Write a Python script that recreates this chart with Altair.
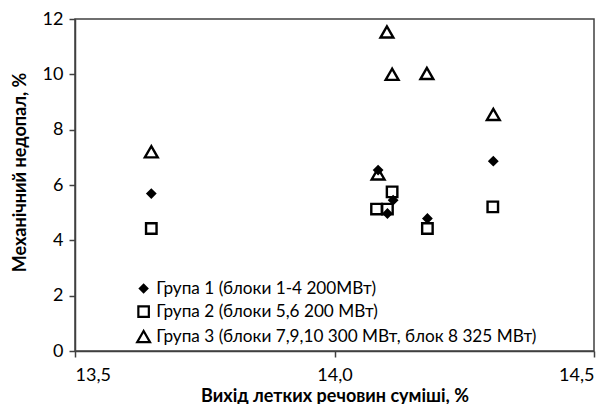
import altair as alt
import pandas as pd

groups = [
    "Група 1 (блоки 1-4 200МВт)",
    "Група 2 (блоки 5,6 200 МВт)",
    "Група 3 (блоки 7,9,10 300 МВт, блок 8 325 МВт)",
]
g1_x = [13.647, 14.084, 14.102, 14.113, 14.179, 14.306]
g1_y = [5.69, 6.54, 4.97, 5.45, 4.79, 6.86]
g2_x = [13.647, 14.081, 14.102, 14.111, 14.179, 14.305]
g2_y = [4.43, 5.13, 5.13, 5.75, 4.43, 5.21]
g3_x = [13.647, 14.084, 14.101, 14.111, 14.178, 14.306]
g3_y = [7.20, 6.40, 11.53, 10.0, 10.03, 8.55]

rows = []
for g, xs, ys in zip(groups, [g1_x, g2_x, g3_x], [g1_y, g2_y, g3_y]):
    for x, y in zip(xs, ys):
        rows.append({"x": x, "y": y, "group": g})
df = pd.DataFrame(rows)

FONT = "Lato"
LINE = "#404040"

legend = alt.Legend(
    title=None, orient="none", legendX=60, legendY=261,
    labelFont=FONT, labelFontSize=17.2, labelColor="#000000", labelLimit=0,
    rowPadding=4, symbolStrokeWidth=2.2, labelOffset=4,
)

chart = alt.Chart(df).mark_point(strokeWidth=2.4, opacity=1).encode(
    x=alt.X("x:Q", scale=alt.Scale(domain=[13.5, 14.5], nice=False),
            axis=alt.Axis(values=[13.5, 14.0, 14.5],
                          labelExpr="replace(format(datum.value, '.1f'), '.', ',')",
                          title="Вихід летких речовин суміші, %",
                          titleY=36)),
    y=alt.Y("y:Q", scale=alt.Scale(domain=[0, 12], nice=False),
            axis=alt.Axis(values=[0, 2, 4, 6, 8, 10, 12],
                          title="Механічний недопал, %",
                          titleX=-46, titleY=153)),
    shape=alt.Shape("group:N", scale=alt.Scale(domain=groups, range=["diamond", "square", "triangle-up"]), legend=legend),
    fill=alt.Fill("group:N", scale=alt.Scale(domain=groups, range=["#000000", "transparent", "transparent"]), legend=legend),
    size=alt.Size("group:N", scale=alt.Scale(domain=groups, range=[55, 165, 210]), legend=legend),
    color=alt.value("#000000"),
).properties(
    width=519, height=332,
    autosize=alt.AutoSizeParams(type="none"),
    padding={"left": 67, "top": 11, "right": 9, "bottom": 56},
).configure_view(
    stroke=LINE, strokeWidth=1.5,
).configure_axis(
    grid=False, domainColor=LINE, domainWidth=1.5, tickColor=LINE, tickWidth=1.5,
    tickSize=6, labelFont=FONT, labelFontSize=18, labelColor="#000000",
    titleFont=FONT, titleFontSize=18, titleFontWeight="bold", titleColor="#000000",
    labelPadding=6,
).configure_axisX(
    labelPadding=9,
)

chart.save("out.html", embed_options={"renderer": "svg", "actions": False})
